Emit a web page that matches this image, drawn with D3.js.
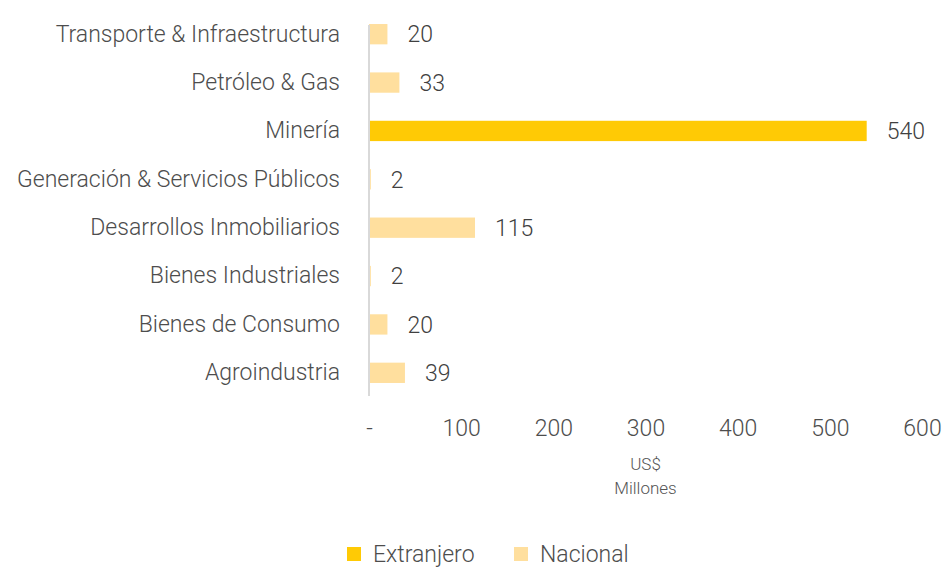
<!DOCTYPE html>
<meta charset="utf-8">
<style>
body { margin: 0; background: #fff; }
text { font-family: Roboto, "Open Sans", sans-serif; font-weight: 300; fill: #555; }
.axis path, .axis line { display: none; }
</style>
<svg width="945" height="572"></svg>
<script src="https://cdn.jsdelivr.net/npm/d3@7"></script>
<script>

var categories = [
  "Transporte & Infraestructura",
  "Petróleo & Gas",
  "Minería",
  "Generación & Servicios Públicos",
  "Desarrollos Inmobiliarios",
  "Bienes Industriales",
  "Bienes de Consumo",
  "Agroindustria"
];
var extranjero = [0, 0, 540, 0, 0, 0, 0, 0];
var nacional = [20, 33, 0, 2, 115, 2, 20, 39];
var xTicks = [0, 100, 200, 300, 400, 500, 600];
var seriesNames = ["Extranjero", "Nacional"];
var colors = ["#FFCA05", "#FFDF9E"];

var svg = d3.select("svg");

var x = d3.scaleLinear().domain([0, 600]).range([369, 922]);
var y = d3.scaleBand().domain(categories).range([10, 397]).paddingInner(0.58).paddingOuter(0.29);

var rows = categories.map(function(c, i) {
  return {cat: c, ext: extranjero[i], nac: nacional[i]};
});

// bars
var g = svg.append("g");
rows.forEach(function(d) {
  g.append("rect")
      .attr("x", x(0))
      .attr("y", y(d.cat))
      .attr("width", x(d.ext) - x(0))
      .attr("height", y.bandwidth())
      .attr("fill", colors[0]);
  g.append("rect")
      .attr("x", x(d.ext))
      .attr("y", y(d.cat))
      .attr("width", x(d.ext + d.nac) - x(d.ext))
      .attr("height", y.bandwidth())
      .attr("fill", colors[1]);
  g.append("text")
      .attr("x", x(d.ext + d.nac) + 20)
      .attr("y", y(d.cat) + y.bandwidth() / 2)
      .attr("dy", "0.36em")
      .style("font-size", "23px")
      .style("fill", "#404040")
      .text(d.ext + d.nac);
});

// vertical axis line
svg.append("line")
    .attr("x1", x(0)).attr("x2", x(0))
    .attr("y1", 25).attr("y2", 396)
    .attr("stroke", "#d9d9d9")
    .attr("stroke-width", 2);

// category labels
svg.append("g")
    .attr("class", "axis")
    .attr("transform", "translate(" + (x(0) - 29) + ",0)")
    .call(d3.axisLeft(y).tickSize(0).tickPadding(0))
    .selectAll("text")
    .style("font-size", "23px")
    .style("fill", "#4d4d4d");

// x axis ticks
svg.append("g")
    .attr("class", "axis")
    .attr("transform", "translate(0,420)")
    .call(d3.axisBottom(x).tickValues(xTicks).tickSize(0).tickPadding(0)
      .tickFormat(function(v) { return v === 0 ? "-" : v; }))
    .selectAll("text")
    .style("font-size", "23px")
    .style("fill", "#4d4d4d");

svg.append("text")
    .attr("x", x(300)).attr("y", 470)
    .attr("text-anchor", "middle")
    .style("font-size", "17px")
    .text("US$");
svg.append("text")
    .attr("x", x(300)).attr("y", 494)
    .attr("text-anchor", "middle")
    .style("font-size", "17px")
    .text("Millones");

// legend
var legendX = [347, 514];
seriesNames.forEach(function(name, i) {
  svg.append("rect")
      .attr("x", legendX[i]).attr("y", 547)
      .attr("width", 14).attr("height", 14)
      .attr("fill", colors[i]);
  svg.append("text")
      .attr("x", legendX[i] + 26).attr("y", 554)
      .attr("dy", "0.36em")
      .style("font-size", "23px")
      .style("fill", "#4d4d4d")
      .text(name);
});

</script>
